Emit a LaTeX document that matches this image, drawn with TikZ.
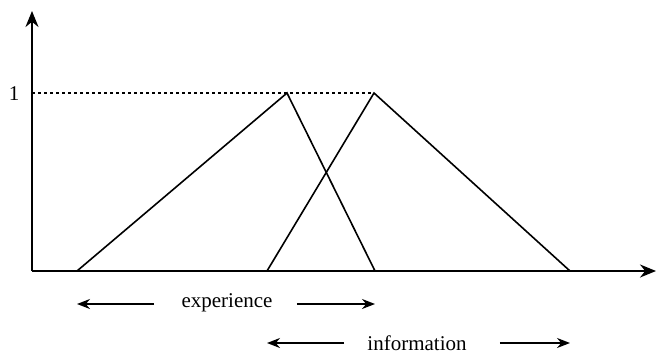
\documentclass[tikz,border=0pt]{standalone}
\usepackage{fontspec}
\setmainfont{Liberation Serif}
\usetikzlibrary{arrows.meta}
\begin{document}
\begin{tikzpicture}[x=0.5pt,y=-0.5pt,
axis/.style={line width=1.1pt,-{Stealth[length=8pt,width=6.5pt]}},
member/.style={line width=0.8pt},
level/.style={line width=0.7pt,dash pattern=on 1.5pt off 1.5pt},
span/.style={line width=0.9pt,-{Stealth[length=6.5pt,width=5pt]}},
lbl/.style={font=\fontsize{10.5}{12}\selectfont,inner sep=0pt},
]
\useasboundingbox (0,0) rectangle (656,353);

% axes
\coordinate (O) at (32,271);
\coordinate (ytop) at (32,11);
\coordinate (xend) at (656,271);
\draw[axis] (O) -- (ytop);
\draw[axis] (O) -- (xend);

% membership level 1
\node[lbl] (one) at (14,94) {1};
\coordinate (yone) at (32,93);
\coordinate (peakB) at (374,93);
\draw[level] (yone) -- (peakB);

% experience
\coordinate (footA1) at (77,271);
\coordinate (peakA) at (287,93);
\coordinate (footA2) at (375,271);
\draw[member] (footA1) -- (peakA) -- (footA2);

% information
\coordinate (footB1) at (267,271);
\coordinate (footB2) at (570,271);
\draw[member] (footB1) -- (peakB) -- (footB2);

% ranges
\node[lbl] (exp) at (227,303) {experience};
\coordinate (expL) at (77,304);
\coordinate (expR) at (375,304);
\draw[span] ([xshift=-13.5pt,yshift=-0.5pt]exp.west) -- (expL);
\draw[span] ([xshift=12pt,yshift=-0.5pt]exp.east) -- (expR);

\node[lbl] (inf) at (417,343) {information};
\coordinate (infL) at (267,343);
\coordinate (infR) at (570,343);
\draw[span] ([xshift=-11.5pt]inf.west) -- (infL);
\draw[span] ([xshift=16.5pt]inf.east) -- (infR);
\end{tikzpicture}
\end{document}
